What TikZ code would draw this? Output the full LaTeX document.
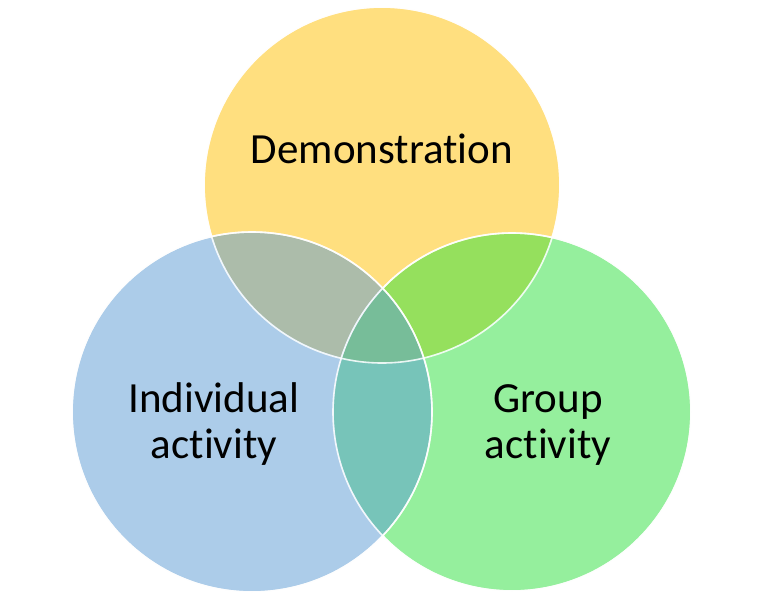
\documentclass[tikz,border=0pt]{standalone}
\usepackage{fontspec}
\setmainfont{Carlito}[Ligatures=NoCommon]
\definecolor{cyellow}{HTML}{FFC000}
\definecolor{cblue}{HTML}{5B9BD5}
\definecolor{cgreen}{HTML}{2DE13D}
\tikzset{
  venn/.style={circle, fill opacity=0.5, draw=white, draw opacity=0.85, line width=1.6pt},
  rim/.style={white, draw opacity=0.85, line width=1.6pt},
  lbl/.style={font=\fontsize{43}{46}\selectfont, text=black, anchor=base, inner sep=0pt}
}
\begin{document}
\begin{tikzpicture}[x=1pt,y=-1pt]
\useasboundingbox (0,0) rectangle (761,600);
\fill[white] (0,0) rectangle (761,600);
\fill[cyellow, venn] (382,185) circle (178);
\fill[cgreen, venn] (512,412) circle (179);
\fill[cblue, venn] (252,412) circle (180);
\draw[rim] (382,185) circle (178);
\draw[rim] (512,412) circle (179);
\draw[rim] (252,412) circle (180);
\node[lbl] (demo) at (382,163) {Demonstration};
\node[lbl] (indiv1) at (214,412) {Individual};
\node[lbl] (indiv2) at (214,458) {activity};
\node[lbl] (group1) at (548,412) {Group};
\node[lbl] (group2) at (548,458) {activity};
\end{tikzpicture}
\end{document}
